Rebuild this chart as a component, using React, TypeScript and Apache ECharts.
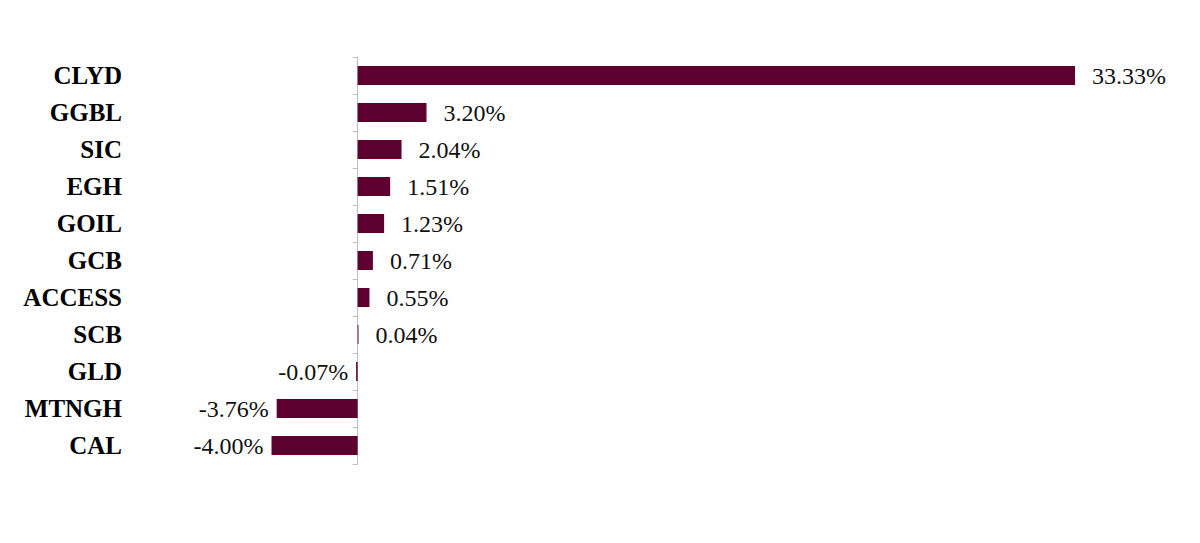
import React, { useEffect, useRef } from "react";
import * as echarts from "echarts";

const categories = ["CLYD", "GGBL", "SIC", "EGH", "GOIL", "GCB", "ACCESS", "SCB", "GLD", "MTNGH", "CAL"];
const values = [33.33, 3.2, 2.04, 1.51, 1.23, 0.71, 0.55, 0.04, -0.07, -3.76, -4.0];

export default function App() {
  const ref = useRef<HTMLDivElement>(null);
  useEffect(() => {
    const chart = echarts.init(ref.current!, undefined, { renderer: "svg" });
    chart.setOption({
      animation: false,
      grid: { left: 250, right: 89, top: 57, bottom: 79, containLabel: false, outerBoundsMode: "none" },
      xAxis: {
        type: "value",
        min: -5,
        max: 35,
        show: false,
      },
      yAxis: {
        type: "category",
        inverse: true,
        data: categories,
        axisLine: { show: true, onZero: true, lineStyle: { color: "#bfbfbf", width: 1 } },
        axisTick: { show: true, length: 5, lineStyle: { color: "#bfbfbf", width: 1 } },
        axisLabel: {
          margin: 128,
          fontFamily: "'Liberation Serif', 'Times New Roman', serif",
          fontWeight: "bold",
          fontSize: 25,
          color: "#000",
        },
        splitLine: { show: false },
      },
      series: [
        {
          type: "bar",
          data: values.map((v) => ({
            value: v,
            label: {
              show: true,
              position: v >= 0 ? "right" : "left",
              distance: v >= 0 ? 17 : 8,
              formatter: (p: any) => p.value.toFixed(2) + "%",
              fontFamily: "'Liberation Serif', 'Times New Roman', serif",
              fontSize: 24,
              color: "#111",
            },
          })),
          barWidth: 19,
          itemStyle: { color: "#5d0030" },
        },
      ],
    });
    return () => chart.dispose();
  }, []);
  return (
    <div
      ref={ref}
      style={{ position: "absolute", left: 0, top: 0, width: 1200, height: 543 }}
    />
  );
}
